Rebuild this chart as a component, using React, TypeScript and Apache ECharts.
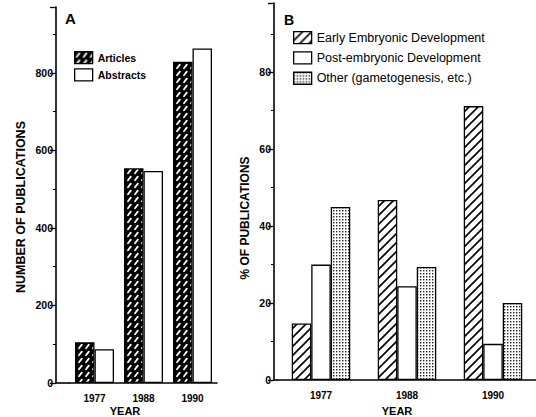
import React, { useEffect, useRef } from "react";
import * as echarts from "echarts";

const years = ["1977", "1988", "1990"];
const articles = [105, 554, 829];
const abstracts = [87, 547, 863];
const earlyEmbryonic = [14.7, 46.8, 71.2];
const postEmbryonic = [30, 24.4, 9.4];
const otherDev = [45, 29.4, 20];
const ticksA = [0, 200, 400, 600, 800];
const ticksB = [0, 20, 40, 60, 80];

const FONT = "'Liberation Sans', Arial, Helvetica, sans-serif";

function makePattern(kind: string): any {
  const c = document.createElement("canvas");
  if (kind === "dense") {
    c.width = 7; c.height = 7;
    const g = c.getContext("2d")!;
    g.fillStyle = "#000"; g.fillRect(0, 0, 7, 7);
    g.strokeStyle = "#fff"; g.lineWidth = 1.8; g.lineCap = "round";
    g.beginPath(); g.moveTo(2, 5.2); g.lineTo(4.8, 1.6); g.stroke();
  } else if (kind === "hatch") {
    const s = 9;
    c.width = s; c.height = s;
    const g = c.getContext("2d")!;
    g.fillStyle = "#fff"; g.fillRect(0, 0, s, s);
    g.strokeStyle = "#000"; g.lineWidth = 1.6;
    g.beginPath();
    g.moveTo(-1, s + 1); g.lineTo(s + 1, -1);
    g.moveTo(-2, 2); g.lineTo(2, -2);
    g.moveTo(s - 2, s + 2); g.lineTo(s + 2, s - 2);
    g.stroke();
  } else {
    c.width = 3; c.height = 3;
    const g = c.getContext("2d")!;
    g.fillStyle = "#fff"; g.fillRect(0, 0, 3, 3);
    g.fillStyle = "#222"; g.fillRect(0, 0, 1.4, 1.4);
  }
  return { image: c, repeat: "repeat" };
}

export default function App() {
  const ref = useRef<HTMLDivElement>(null);
  useEffect(() => {
    if (!ref.current) return;
    const chart = echarts.init(ref.current, undefined, { renderer: "svg" });
    const dense = makePattern("dense");
    const hatch = makePattern("hatch");
    const dots = makePattern("dots");
    const border = { borderColor: "#000", borderWidth: 1.3 };
    const axisCommon = {
      type: "value" as const,
      min: 0,
      axisLine: { show: true, lineStyle: { color: "#000", width: 1.6 } },
      axisTick: { show: true, length: 6, lineStyle: { color: "#000", width: 1.3 } },
      minorTick: { show: true, splitNumber: 2, length: 3, lineStyle: { color: "#000", width: 1 } },
      splitLine: { show: false },
      axisLabel: { showMaxLabel: false, margin: 3, color: "#000", fontSize: 10.5, fontWeight: "bold" as const, fontFamily: FONT },
    };
    const xCommon = {
      type: "category" as const,
      data: years,
      axisLine: { show: true, lineStyle: { color: "#000", width: 1.6 } },
      axisTick: { show: false },
      axisLabel: { margin: 10, color: "#000", fontSize: 10, fontWeight: "bold" as const, fontFamily: FONT },
    };
    const txt = (text: string, x: number, y: number, size: number, extra: any = {}) => ({
      type: "text", x, y, ...extra,
      style: { text, fill: "#000", font: `bold ${size}px ${FONT}`, textAlign: "center", textVerticalAlign: "middle" },
    });
    chart.setOption({
      animation: false,
      backgroundColor: "#fff",
      grid: [
        { left: 70, top: 7, width: 147, height: 376 },
        { left: 278, top: 3, width: 267, height: 377 },
      ],
      xAxis: [
        { ...xCommon, gridIndex: 0 },
        { ...xCommon, gridIndex: 1 },
      ],
      yAxis: [
        { ...axisCommon, gridIndex: 0, max: 970, interval: 200, offset: 14,
          axisLabel: { ...axisCommon.axisLabel, formatter: (v: number) => (ticksA.includes(v) ? String(v) : "") } },
        { ...axisCommon, gridIndex: 1, max: 98, interval: 20, offset: 4,
          axisLabel: { ...axisCommon.axisLabel, formatter: (v: number) => (ticksB.includes(v) ? String(v) : "") } },
      ],
      legend: [
        {
          data: ["Articles", "Abstracts"], left: 74, top: 51, orient: "vertical", padding: 0,
          itemWidth: 18, itemHeight: 12, itemGap: 4, icon: "rect",
          itemStyle: { borderColor: "#000", borderWidth: 1.3 },
          textStyle: { fontSize: 10.5, fontWeight: "bold", color: "#000", fontFamily: FONT },
        },
        {
          data: ["Early Embryonic Development", "Post-embryonic Development", "Other (gametogenesis, etc.)"],
          left: 293, top: 31, orient: "vertical", padding: 0,
          itemWidth: 18, itemHeight: 12, itemGap: 7, icon: "rect",
          itemStyle: { borderColor: "#000", borderWidth: 1.3 },
          textStyle: { fontSize: 12.5, color: "#000", fontFamily: FONT },
        },
      ],
      series: [
        { name: "Articles", type: "bar", xAxisIndex: 0, yAxisIndex: 0, data: articles, barWidth: 19.5, barGap: "0%",
          itemStyle: { color: dense, ...border } },
        { name: "Abstracts", type: "bar", xAxisIndex: 0, yAxisIndex: 0, data: abstracts, barWidth: 19.5, barGap: "0%",
          itemStyle: { color: "#fff", ...border } },
        { name: "Early Embryonic Development", type: "bar", xAxisIndex: 1, yAxisIndex: 1, data: earlyEmbryonic, barWidth: 19.5, barGap: "0%",
          itemStyle: { color: hatch, ...border } },
        { name: "Post-embryonic Development", type: "bar", xAxisIndex: 1, yAxisIndex: 1, data: postEmbryonic, barWidth: 19.5, barGap: "0%",
          itemStyle: { color: "#fff", ...border } },
        { name: "Other (gametogenesis, etc.)", type: "bar", xAxisIndex: 1, yAxisIndex: 1, data: otherDev, barWidth: 19.5, barGap: "0%",
          itemStyle: { color: dots, ...border } },
      ],
      graphic: [
        { type: "line", shape: { x1: 56, y1: 383, x2: 70, y2: 383 }, style: { stroke: "#000", lineWidth: 1.6 } },
        { type: "line", shape: { x1: 274, y1: 380, x2: 278, y2: 380 }, style: { stroke: "#000", lineWidth: 1.6 } },
        txt("A", 70.5, 18, 15),
        txt("B", 289, 20, 14),
        txt("YEAR", 125, 411, 11),
        txt("YEAR", 397, 411, 11),
        txt("NUMBER OF PUBLICATIONS", 21, 207, 12.5, { rotation: Math.PI / 2 }),
        txt("% OF PUBLICATIONS", 245, 218, 12, { rotation: Math.PI / 2 }),
      ],
    });
    return () => chart.dispose();
  }, []);
  return <div ref={ref} style={{ position: "fixed", left: 0, top: 0, width: 536, height: 417 }} />;
}
